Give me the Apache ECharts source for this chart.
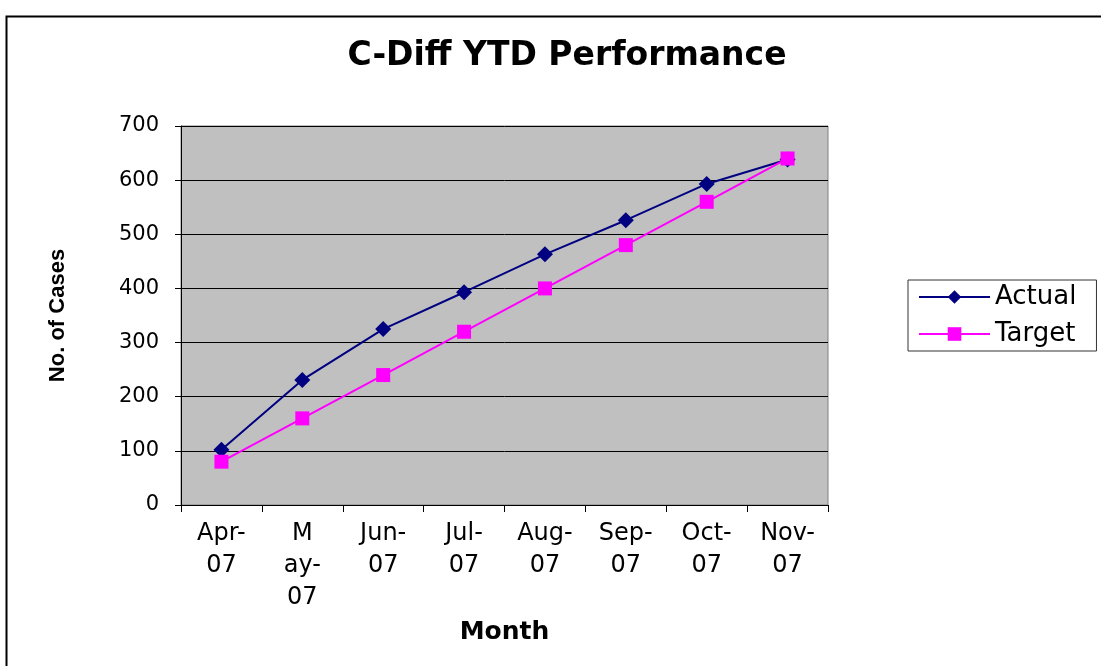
<!DOCTYPE html>
<html>
<head>
<meta charset="utf-8">
<script src="https://cdn.jsdelivr.net/npm/echarts@6/dist/echarts.min.js"></script>
<style>
  html, body { margin: 0; padding: 0; background: #fff; }
  #chart { width: 1101px; height: 666px; }
</style>
</head>
<body>
<div id="chart"></div>
<script>
// data
var months = ["Apr-\n07", "M\nay-\n07", "Jun-\n07", "Jul-\n07", "Aug-\n07", "Sep-\n07", "Oct-\n07", "Nov-\n07"];
var actual = [102, 231, 325, 393, 463, 526, 593, 638];
var target = [80, 160, 240, 320, 400, 480, 560, 640];

// the original text looks wide, DejaVu gets closer than Arial
var wide = "'DejaVu Sans', sans-serif";
var arial = "'Liberation Sans', Arial, sans-serif";
var chart = echarts.init(document.getElementById("chart"));

chart.setOption({
  animation: false,
  textStyle: { fontFamily: wide, color: "#000" },
  // outer frame
  graphic: [
    {
      type: "rect",
      left: 4, top: 14,
      shape: { width: 1110, height: 670 },
      style: { fill: null, stroke: "#000", lineWidth: 2 },
      silent: true
    }
  ],
  title: {
    text: "C-Diff YTD Performance",
    left: 562, top: 35,
    textAlign: "center",
    textStyle: { fontFamily: wide, fontSize: 33, fontWeight: "bold", color: "#000" }
  },
  legend: {
    left: 908, top: 280,
    orient: "vertical",
    itemWidth: 71, itemHeight: 17, itemGap: 11,
    padding: [4, 20, 4, 10],
    borderColor: "#333", borderWidth: 1,
    textStyle: { fontFamily: wide, fontSize: 26, lineHeight: 26, color: "#000" },
    data: ["Actual", "Target"]
  },
  grid: { left: 181, right: 273, top: 126, bottom: 161, show: true, backgroundColor: "#C0C0C0", borderColor: "#808080", borderWidth: 1 },
  xAxis: {
    type: "category",
    data: months,
    boundaryGap: true,
    name: "Month",
    nameLocation: "middle",
    nameGap: 115,
    nameTextStyle: { fontFamily: wide, fontSize: 25, fontWeight: "bold", color: "#000" },
    axisLine: { lineStyle: { color: "#000", width: 1 } },
    axisTick: { show: true, inside: false, length: 7, lineStyle: { color: "#000" } },
    axisLabel: { interval: 0, margin: 13, fontSize: 24, lineHeight: 32, color: "#000", fontFamily: wide }
  },
  yAxis: {
    type: "value",
    min: 0, max: 700, interval: 100,
    name: "No. of Cases",
    nameLocation: "middle",
    nameGap: 112,
    nameTextStyle: { fontFamily: arial, fontSize: 22, fontWeight: "bold", color: "#000" },
    axisLine: { show: true, lineStyle: { color: "#000" } },
    axisTick: { show: true, length: 6, lineStyle: { color: "#000" } },
    axisLabel: { margin: 22, fontSize: 21, color: "#000", fontFamily: wide },
    splitLine: { show: true, lineStyle: { color: "#000", width: 1 } }
  },
  series: [
    {
      name: "Actual",
      type: "line",
      data: actual,
      symbol: "diamond",
      symbolSize: 16,
      lineStyle: { color: "#000080", width: 2 },
      itemStyle: { color: "#000080" },
      z: 2
    },
    {
      name: "Target",
      type: "line",
      data: target,
      symbol: "rect",
      symbolSize: 14,
      lineStyle: { color: "#FF00FF", width: 2 },
      itemStyle: { color: "#FF00FF" },
      z: 3
    }
  ]
});
</script>
</body>
</html>
